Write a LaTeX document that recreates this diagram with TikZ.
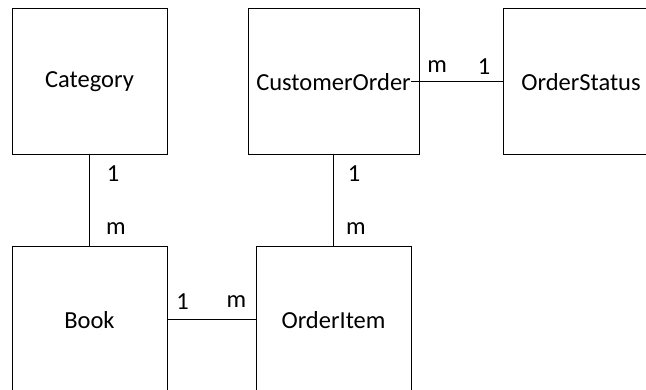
\documentclass[tikz,border=0pt]{standalone}
\usepackage{fontspec}
\setmainfont{Carlito}
\usetikzlibrary{positioning,calc}

\begin{document}
\begin{tikzpicture}[x=1pt, y=-1pt, line width=1pt,
  font=\fontsize{24.5}{29}\selectfont,
  entity/.style={rectangle, draw, minimum width=155pt, minimum height=146pt, inner sep=0pt},
  card/.style={inner sep=0pt}]
  \useasboundingbox (0,0) rectangle (646,390);
  \clip (0,0) rectangle (646,390);
  % entities
  \node[entity] (cat) at (89.5,82) {Category};
  \node[entity, minimum width=171pt] (co) at (333.5,82) {};
  \node[card] (colabel) at (co) {CustomerOrder};
  \node[entity] (os) at (581,82) {OrderStatus};
  \node[entity] (book) at (89.5,320) {Book};
  \node[entity] (oi) at (333.5,320) {OrderItem};
  % relations
  \draw (cat) -- (book);
  \draw (co) -- (oi);
  \draw (colabel.east) -- (os.west);
  \draw (book) -- (oi);
  % cardinalities
  \node[card] at ($(cat.south)+(23.5,18)$) {1};
  \node[card] at ($(book.north)+(26.5,-18)$) {m};
  \node[card] at ($(co.south)+(20.5,18)$) {1};
  \node[card] at ($(oi.north)+(22.5,-18)$) {m};
  \node[card] at ($(colabel.east)+(26,-15)$) {m};
  \node[card] at ($(os.west)+(-19,-15)$) {1};
  \node[card] at ($(book.east)+(15,-18)$) {1};
  \node[card] at ($(oi.west)+(-19,-18)$) {m};
\end{tikzpicture}
\end{document}
